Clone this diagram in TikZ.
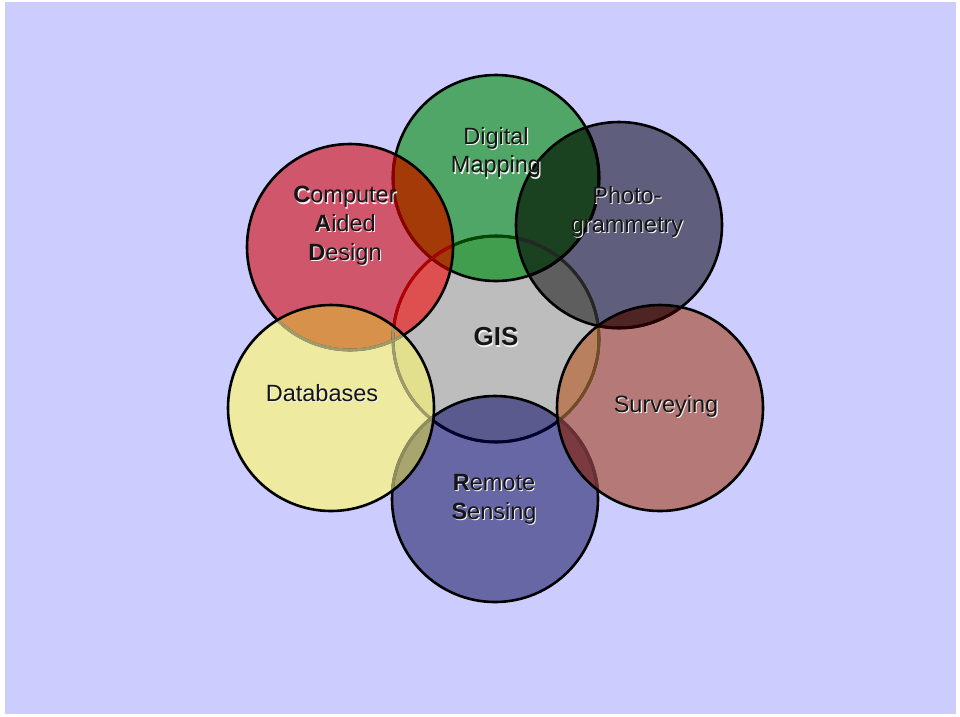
\documentclass[tikz,border=0pt]{standalone}
\usepackage{fontspec}
\setmainfont{Liberation Sans}
\definecolor{bglav}{HTML}{CCCCFF}
\definecolor{cgis}{HTML}{BDBDBD}
\definecolor{cgreen}{HTML}{4FA666}
\definecolor{cgreengis}{HTML}{409E4E}
\definecolor{cred}{HTML}{D0566C}
\definecolor{credgis}{HTML}{DE5050}
\definecolor{credgreen}{HTML}{A33A08}
\definecolor{credyel}{HTML}{D8914A}
\definecolor{cyel}{HTML}{EEEBA0}
\definecolor{cyelgis}{HTML}{E2E08C}
\definecolor{cyelblue}{HTML}{A8A66E}
\definecolor{cblue}{HTML}{6767A6}
\definecolor{cbluegis}{HTML}{5A5A8E}
\definecolor{csurv}{HTML}{B57A78}
\definecolor{csurvgis}{HTML}{B98060}
\definecolor{csurvblue}{HTML}{7A3A40}
\definecolor{csurvphoto}{HTML}{4E2424}
\definecolor{cphoto}{HTML}{5F5F7D}
\definecolor{cphotogis}{HTML}{5E5E5E}
\definecolor{cphotogreen}{HTML}{1B4220}
\definecolor{txtdark}{HTML}{151515}
\definecolor{shadowc}{HTML}{F4F4F4}
\definecolor{arcyel}{HTML}{9E9C6C}
\newcommand\crad{103pt}
\newcommand\interfill[3]{\begin{scope}\clip (#1) circle[radius=\crad]; \fill[#3] (#2) circle[radius=\crad];\end{scope}}
\newcommand\hidarc[3]{\begin{scope}\clip (#2) circle[radius=\crad]; \draw[#3, line width=3pt] (#1) circle[radius=\crad];\end{scope}}
\newcommand\blackring[1]{\draw[black, line width=2.6pt] (#1) circle[radius=\crad];}
\begin{document}
\begin{tikzpicture}[x=1pt,y=-1pt,
  lbl/.style={text=txtdark, align=center, inner sep=0pt, font=\fontsize{23.5}{28.8}\selectfont},
  shd/.style={text=shadowc, align=center, inner sep=0pt, font=\fontsize{23.5}{28.8}\selectfont},
  gislbl/.style={text=txtdark, inner sep=0pt, font=\fontsize{26}{30}\selectfont\bfseries},
  gisshd/.style={text=shadowc, inner sep=0pt, font=\fontsize{26}{30}\selectfont\bfseries}]
\useasboundingbox (0,0) rectangle (960,716);
\fill[white] (0,0) rectangle (960,716);
\fill[bglav] (5,2) rectangle (956,714);
% centres
\coordinate (GIS) at (496,339);
\coordinate (DM) at (496,178);
\coordinate (CAD) at (350,247);
\coordinate (PH) at (619,225);
\coordinate (DB) at (331,408);
\coordinate (SV) at (660,408);
\coordinate (RS) at (495,499);
% base fills
\fill[cgis] (GIS) circle[radius=\crad];
\fill[cgreen] (DM) circle[radius=\crad];
\fill[cphoto] (PH) circle[radius=\crad];
\fill[cblue] (RS) circle[radius=\crad];
\fill[cred] (CAD) circle[radius=\crad];
\fill[csurv] (SV) circle[radius=\crad];
\fill[cyel] (DB) circle[radius=\crad];
% overlaps with GIS
\interfill{GIS}{DM}{cgreengis}
\interfill{GIS}{PH}{cphotogis}
\interfill{GIS}{RS}{cbluegis}
\interfill{GIS}{CAD}{credgis}
\interfill{GIS}{SV}{csurvgis}
\interfill{GIS}{DB}{cyelgis}
% overlaps between outer circles
\interfill{DM}{PH}{cphotogreen}
\interfill{DM}{CAD}{credgreen}
\interfill{PH}{SV}{csurvphoto}
\interfill{RS}{SV}{csurvblue}
\interfill{RS}{DB}{cyelblue}
\interfill{CAD}{DB}{credyel}
% outlines, bottom to top
\blackring{GIS}
\hidarc{GIS}{DM}{black!55!green!60!black}
\hidarc{GIS}{PH}{black!85}
\hidarc{GIS}{RS}{black!70!blue!60!black}
\hidarc{GIS}{CAD}{red!70!black}
\hidarc{GIS}{SV}{brown!60!black}
\hidarc{GIS}{DB}{arcyel}
\blackring{DM}
\hidarc{DM}{PH}{black}
\hidarc{DM}{CAD}{red!55!black}
\blackring{PH}
\hidarc{PH}{SV}{black!85!red}
\blackring{RS}
\hidarc{RS}{SV}{csurvblue!85!black}
\hidarc{RS}{DB}{cyelblue!85!black}
\blackring{CAD}
\hidarc{CAD}{DB}{arcyel}
\blackring{SV}
\blackring{DB}
% labels with light shadow
\node[shd] (dm-s) at (497.1,153.7) {Digital\\Mapping};
\node[lbl] (dm) at (496,152.5) {Digital\\Mapping};
\node[shd] (cad-s) at (346.1,227.2) {{\bfseries C}omputer\\{\bfseries A}ided\\{\bfseries D}esign};
\node[lbl] (cad) at (345,226) {{\bfseries C}omputer\\{\bfseries A}ided\\{\bfseries D}esign};
\node[shd] (ph-s) at (628.1,213.2) {Photo-\\grammetry};
\node[lbl] (ph) at (627,212) {Photo-\\grammetry};
\node[gisshd] (gis-s) at (497.1,338.2) {GIS};
\node[gislbl] (gis) at (496,337) {GIS};
\node[shd] (db-s) at (323.1,394.2) {Databases};
\node[lbl] (db) at (322,393) {Databases};
\node[shd] (sv-s) at (667.1,407.2) {Surveying};
\node[lbl] (sv) at (666,406) {Surveying};
\node[shd] (rs-s) at (495.1,500.2) {{\bfseries R}emote\\{\bfseries S}ensing};
\node[lbl] (rs) at (494,499) {{\bfseries R}emote\\{\bfseries S}ensing};
\end{tikzpicture}
\end{document}
